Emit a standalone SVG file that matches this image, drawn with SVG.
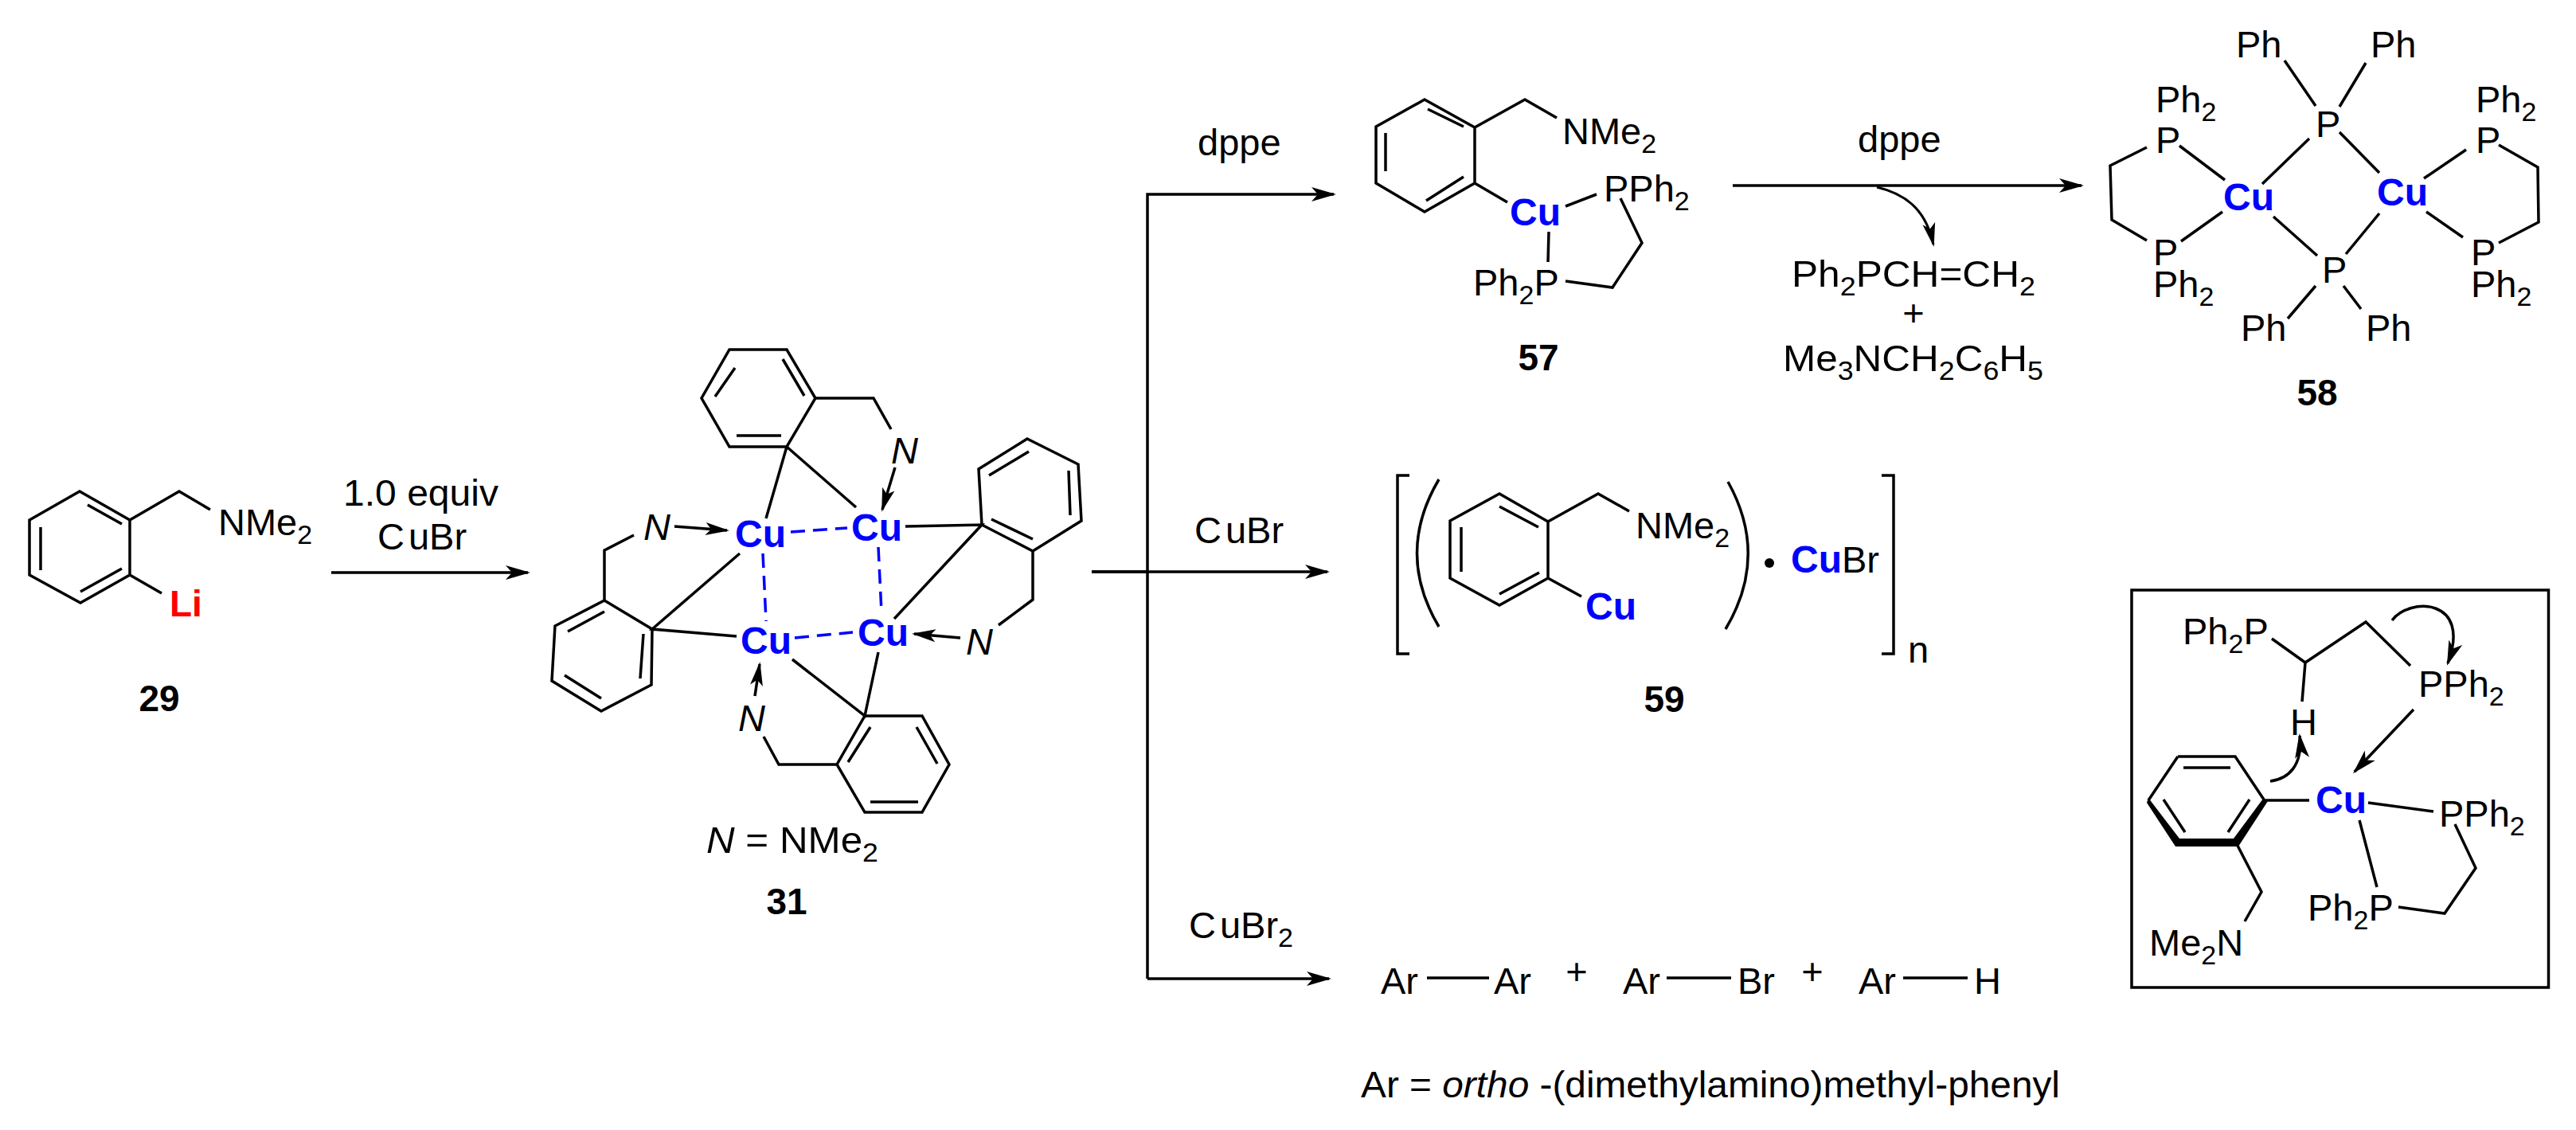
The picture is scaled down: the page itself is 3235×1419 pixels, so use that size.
<svg xmlns="http://www.w3.org/2000/svg" width="3235" height="1419" viewBox="0 0 3235 1419">
<style>
text{font-family:"Liberation Sans",Arial,sans-serif;font-size:47px;fill:#000}
.sub{font-size:34px}
.b{font-weight:bold;font-size:46px}
.cu{font-weight:bold;font-size:48px;fill:#0000ff}
.li{font-weight:bold;font-size:46px;fill:#ff0000}
.i{font-style:italic}
path{fill:none;stroke:#000;stroke-width:3.5;stroke-linecap:butt;stroke-linejoin:miter}
.dash{stroke:#0000ff;stroke-dasharray:18 10}
.thin{stroke-width:3}
.ar{marker-end:url(#big)}
.sm{marker-end:url(#small)}
.bold{fill:#000;stroke:none}
</style>
<defs>
<marker id="big" markerUnits="userSpaceOnUse" markerWidth="34" markerHeight="22" refX="28" refY="11" orient="auto"><path d="M31,11L0,2L8,11L0,20Z" style="fill:#000;stroke:none"/></marker>
<marker id="small" markerUnits="userSpaceOnUse" markerWidth="34" markerHeight="20" refX="27" refY="10" orient="auto"><path d="M30,10L0,2L7,10L0,18Z" style="fill:#000;stroke:none"/></marker>
</defs>
<rect width="3235" height="1419" fill="#fff"/>

<g id="connectors">
<path class="ar" d="M416,719H663"/>
<path d="M1371,718H1442"/>
<path class="ar" d="M1441,1229V244H1675"/>
<path class="ar" d="M1371,718H1667"/>
<path class="ar" d="M1441,1229H1669"/>
<path class="ar" d="M2176,233H2614"/>
<path class="thin sm" d="M2357,235C2400,245 2420,270 2428,307"/>
</g>

<g id="labels">
<text x="431" y="635" textLength="195" lengthAdjust="spacingAndGlyphs">1.0 equiv</text>
<text x="474" y="690">C<tspan dx="5">uBr</tspan></text>
<text x="1504" y="195">dppe</text>
<text x="1500" y="682">C<tspan dx="5">uBr</tspan></text>
<text x="1493" y="1178">C<tspan dx="5">uBr</tspan><tspan class="sub" dy="11">2</tspan></text>
<text x="2333" y="191">dppe</text>
</g>

<g id="compound-29">
<path d="M100,617L163,653V722L101,757L37,722V653ZM110,634L153,658M51,662V716M101,743L153,714M163,653L225,617L264,640M163,722L203,745"/>
<text x="274" y="672">NMe<tspan class="sub" dy="11">2</tspan></text>
<text class="li" x="213" y="774">Li</text>
<text class="b" x="200" y="893" text-anchor="middle">29</text>
</g>

<g id="compound-31">
<path d="M916,439H988L1024,500L988,561H916L881,500ZM983,451L1010,497M923,462L898,498M925,547H981M1024,500H1097L1119,539M988,561L962,651M988,561L1075,637"/>
<path d="M1290,551L1354,583L1358,654L1297,692L1233,659L1229,589ZM1292,567L1242,597M1342,591L1344,647M1245,652L1297,677M1297,692V753L1254,785M1137,661L1233,659L1123,777"/>
<path d="M1086,899H1158L1192,960L1158,1020H1086L1051,960ZM1151,913L1177,959M1093,913L1065,957M1093,1007H1153M1051,960H978L959,925M1103,819L1086,899L995,828"/>
<path d="M759,754L819,790L818,860L755,893L693,855L697,786ZM759,768L713,793M808,796L804,852M755,877L709,848M759,754V691L796,672M929,695L819,790L925,799"/>
<path class="sm" d="M1124,587L1108,640"/>
<path class="sm" d="M1206,801L1148,796"/>
<path class="sm" d="M948,874L954,834"/>
<path class="sm" d="M847,661L913,666"/>
<path class="dash" d="M993,668L1064,663"/>
<path class="dash" d="M958,695L962,780"/>
<path class="dash" d="M1103,687L1107,769"/>
<path class="dash" d="M998,801L1071,794"/>
<text class="cu" x="923" y="687">Cu</text>
<text class="cu" x="1069" y="679">Cu</text>
<text class="cu" x="930" y="821">Cu</text>
<text class="cu" x="1077" y="811">Cu</text>
<text class="i" x="1119" y="582">N</text>
<text class="i" x="1213" y="822">N</text>
<text class="i" x="927" y="918">N</text>
<text class="i" x="808" y="678">N</text>
<text x="887" y="1071" textLength="216" lengthAdjust="spacingAndGlyphs"><tspan class="i">N</tspan> = NMe<tspan class="sub" dy="11">2</tspan></text>
<text class="b" x="988" y="1148" text-anchor="middle">31</text>
</g>

<g id="compound-57">
<path d="M1789,125L1852,160V230L1789,266L1728,230V159ZM1793,137L1838,159M1740,167V215M1791,252L1838,222M1852,160L1915,125L1955,148M1852,230L1893,254M1966,259L2005,244M2035,249L2062,305L2025,361L1966,353M1945,291L1944,329"/>
<text class="cu" x="1896" y="283">Cu</text>
<text x="1962" y="181">NMe<tspan class="sub" dy="11">2</tspan></text>
<text x="2014" y="253">PPh<tspan class="sub" dy="11">2</tspan></text>
<text x="1850" y="371">Ph<tspan class="sub" dy="11">2</tspan><tspan dy="-11">P</tspan></text>
<text class="b" x="1932" y="465" text-anchor="middle">57</text>
</g>

<g id="byproducts">
<text x="2250" y="360" textLength="306" lengthAdjust="spacingAndGlyphs">Ph<tspan class="sub" dy="11">2</tspan><tspan dy="-11">PCH=CH</tspan><tspan class="sub" dy="11">2</tspan></text>
<text x="2403" y="409" text-anchor="middle">+</text>
<text x="2239" y="466" textLength="327" lengthAdjust="spacingAndGlyphs">Me<tspan class="sub" dy="11">3</tspan><tspan dy="-11">NCH</tspan><tspan class="sub" dy="11">2</tspan><tspan dy="-11">C</tspan><tspan class="sub" dy="11">6</tspan><tspan dy="-11">H</tspan><tspan class="sub" dy="11">5</tspan></text>
</g>

<g id="compound-58">
<path d="M2869,76L2908,133M2971,79L2938,134M2900,174L2841,231M2938,166L2988,217M2696,185L2650,208L2652,276L2696,302M2737,183L2794,226M2791,266L2739,303M3138,182L3187,210L3188,279L3138,305M3097,188L3044,224M3047,266L3093,298M2855,272L2910,321M2988,268L2946,319M2908,359L2873,400M2943,359L2965,388"/>
<text x="2808" y="72">Ph</text>
<text x="2977" y="72">Ph</text>
<text x="2908" y="172">P</text>
<text class="cu" x="2792" y="264">Cu</text>
<text class="cu" x="2985" y="258">Cu</text>
<text x="2707" y="141">Ph<tspan class="sub" dy="11">2</tspan></text>
<text x="2707" y="192">P</text>
<text x="2704" y="333">P</text>
<text x="2704" y="373">Ph<tspan class="sub" dy="11">2</tspan></text>
<text x="3109" y="141">Ph<tspan class="sub" dy="11">2</tspan></text>
<text x="3109" y="192">P</text>
<text x="3103" y="333">P</text>
<text x="3103" y="373">Ph<tspan class="sub" dy="11">2</tspan></text>
<text x="2916" y="355">P</text>
<text x="2814" y="428">Ph</text>
<text x="2971" y="428">Ph</text>
<text class="b" x="2910" y="509" text-anchor="middle">58</text>
</g>

<g id="compound-59">
<path d="M1770,597H1755V821H1770M2363,597H2378V821H2363M1807,602Q1752,695 1807,787M2170,605Q2222,698 2167,790"/>
<path d="M1883,620L1944,655V726L1883,760L1821,726V654ZM1883,636L1932,662M1835,662V718M1883,746L1933,719M1944,655L2007,620L2046,642M1944,726L1986,749"/>
<text x="2054" y="676">NMe<tspan class="sub" dy="11">2</tspan></text>
<text class="cu" x="1991" y="778">Cu</text>
<circle cx="2222" cy="707" r="6"/>
<text x="2249" y="719"><tspan class="cu">Cu</tspan>Br</text>
<text x="2396" y="832">n</text>
<text class="b" x="2090" y="894" text-anchor="middle">59</text>
</g>

<g id="products-ar">
<path d="M1792,1228H1870M2093,1228H2174M2390,1228H2471"/>
<text x="1734" y="1248">Ar</text>
<text x="1876" y="1248">Ar</text>
<text x="1980" y="1236" text-anchor="middle">+</text>
<text x="2038" y="1248">Ar</text>
<text x="2182" y="1248">Br</text>
<text x="2276" y="1236" text-anchor="middle">+</text>
<text x="2334" y="1248">Ar</text>
<text x="2479" y="1248">H</text>
<text x="1709" y="1378" textLength="878" lengthAdjust="spacingAndGlyphs">Ar = <tspan class="i">ortho</tspan> -(dimethylamino)methyl-phenyl</text>
</g>

<g id="mechanism-box">
<rect x="2677" y="741" width="523.5" height="499" fill="none" stroke="#000" stroke-width="3.5"/>
<path d="M2853,802L2895,832L2971,781L3027,836M2895,832L2891,881M2735,950H2807L2843,1004M2698,1005L2735,950M2742,964H2801M2717,1004L2744,1045M2825,1004L2798,1045M2843,1005H2900M2974,1008L3056,1019M3083,1035L3109,1090L3070,1147L3012,1139M2963,1030L2985,1114M2809,1060L2840,1120L2819,1157"/>
<path class="bold" d="M2848,1006L2811,1063H2732L2696,1008L2698,1002L2737,1053H2805L2842,1003Z"/>
<path class="ar" d="M3004,779C3025,750 3105,750 3074,833"/>
<path class="ar" d="M3031,891L2957,969"/>
<path class="ar" d="M2851,981C2875,978 2892,960 2888,924"/>
<text x="2741" y="809">Ph<tspan class="sub" dy="11">2</tspan><tspan dy="-11">P</tspan></text>
<text x="3037" y="875">PPh<tspan class="sub" dy="11">2</tspan></text>
<text x="2876" y="923">H</text>
<text class="cu" x="2908" y="1021">Cu</text>
<text x="3063" y="1038">PPh<tspan class="sub" dy="11">2</tspan></text>
<text x="2898" y="1156">Ph<tspan class="sub" dy="11">2</tspan><tspan dy="-11">P</tspan></text>
<text x="2699" y="1200">Me<tspan class="sub" dy="11">2</tspan><tspan dy="-11">N</tspan></text>
</g>
</svg>
